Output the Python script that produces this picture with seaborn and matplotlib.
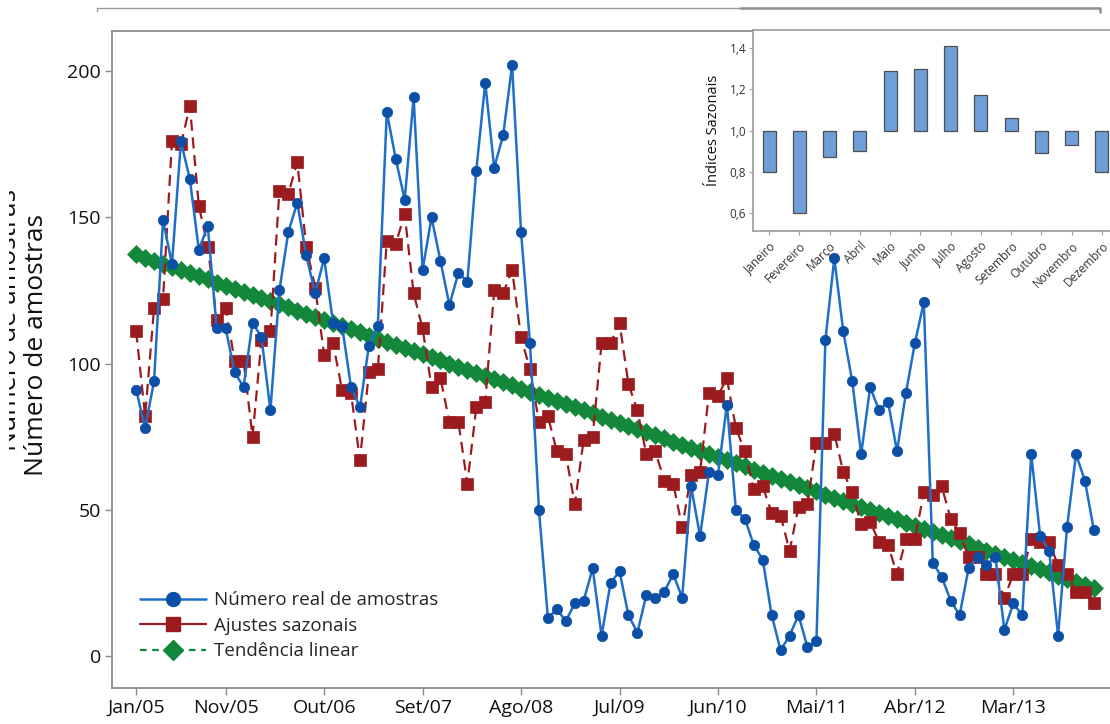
import numpy as np
import pandas as pd
import matplotlib
matplotlib.use("Agg")
import matplotlib.pyplot as plt
from matplotlib.lines import Line2D
from matplotlib.patches import Rectangle
import seaborn as sns

# Monthly sample counts, Jan/05 .. Dec/13
actual = [91, 78, 94, 149, 134, 176, 163, 139, 147, 112, 112, 97,
          92, 114, 109, 84, 125, 145, 155, 137, 124, 136, 114, 113,
          92, 85, 106, 113, 186, 170, 156, 191, 132, 150, 135, 120,
          131, 128, 166, 196, 167, 178, 202, 145, 107, 50, 13, 16,
          12, 18, 19, 30, 7, 25, 29, 14, 8, 21, 20, 22,
          28, 20, 58, 41, 63, 62, 86, 50, 47, 38, 33, 14,
          2, 7, 14, 3, 5, 108, 136, 111, 94, 69, 92, 84,
          87, 70, 90, 107, 121, 32, 27, 19, 14, 30, 34, 31,
          34, 9, 18, 14, 69, 41, 36, 7, 44, 69, 60, 43]

# Seasonally adjusted series
adjusted = [111, 82, 119, 122, 176, 175, 188, 154, 140, 115, 119, 101,
            101, 75, 108, 111, 159, 158, 169, 140, 126, 103, 107, 91,
            90, 67, 97, 98, 142, 141, 151, 124, 112, 92, 95, 80,
            80, 59, 85, 87, 125, 124, 132, 109, 98, 80, 82, 70,
            69, 52, 74, 75, 107, 107, 114, 93, 84, 69, 70, 60,
            59, 44, 62, 63, 90, 89, 95, 78, 70, 57, 58, 49,
            48, 36, 51, 52, 73, 73, 76, 63, 56, 45, 46, 39,
            38, 28, 40, 40, 56, 55, 58, 47, 42, 34, 34, 28,
            28, 20, 28, 28, 40, 39, 39, 31, 28, 22, 22, 18]

tick_months = [0, 10, 21, 32, 43, 54, 65, 76, 87, 98]
tick_labels = ["Jan/05", "Nov/05", "Out/06", "Set/07", "Ago/08",
               "Jul/09", "Jun/10", "Mai/11", "Abr/12", "Mar/13"]

month_names = ["Janeiro", "Fevereiro", "Março", "Abril", "Maio", "Junho",
               "Julho", "Agosto", "Setembro", "Outubro", "Novembro", "Dezembro"]
seasonal_index = [0.80, 0.60, 0.87, 0.90, 1.29, 1.30,
                  1.41, 1.17, 1.06, 0.89, 0.93, 0.80]

BLUE, BLUE_DARK = "#1f6fc8", "#0b4fa6"
RED = "#9c1b1f"
GREEN = "#14883a"
SPINE = "#8c8c8c"

sns.set_theme(style="ticks")
plt.rcParams["font.family"] = ["Open Sans", "DejaVu Sans"]

W, H = 1110, 724
fig = plt.figure(figsize=(W / 100, H / 100), dpi=100)


def box(x0, y0, x1, y1):
    return [x0 / W, 1 - y1 / H, (x1 - x0) / W, (y1 - y0) / H]


ax = fig.add_axes(box(112, 31, 1110, 688))

t = np.arange(len(actual))
df = pd.DataFrame({"t": t, "actual": actual, "adjusted": adjusted})
# least-squares linear trend of the monthly counts
slope, intercept = np.polyfit(df["t"], df["actual"], 1)
df["trend"] = intercept + slope * df["t"]

sns.lineplot(data=df, x="t", y="trend", ax=ax, color=GREEN, linestyle="--",
             linewidth=1.5, marker="D", markersize=9, markerfacecolor=GREEN,
             markeredgecolor=GREEN, markeredgewidth=0.5, zorder=2)
sns.lineplot(data=df, x="t", y="adjusted", ax=ax, color=RED,
             linestyle=(0, (5, 3)), linewidth=1.6, marker="s", markersize=8,
             markerfacecolor=RED, markeredgecolor=RED, markeredgewidth=0.5,
             zorder=3)
sns.lineplot(data=df, x="t", y="actual", ax=ax, color=BLUE, linewidth=1.8,
             marker="o", markersize=7.5, markerfacecolor=BLUE_DARK,
             markeredgecolor=BLUE_DARK, markeredgewidth=0.5, zorder=4)

ax.set_xlim(-2.7, 108.8)
ax.set_ylim(-10.9, 213.7)
ax.set_xticks(tick_months)
ax.set_xticklabels(tick_labels)
ax.set_yticks([0, 50, 100, 150, 200])
ax.set_xlabel("")
ax.set_ylabel("")
ax.tick_params(axis="both", direction="out", length=5, width=1.0,
               color=SPINE, labelsize=14, labelcolor="#111111", pad=3)
for name in ["left", "bottom", "top"]:
    ax.spines[name].set_visible(True)
    ax.spines[name].set_color(SPINE)
    ax.spines[name].set_linewidth(1.3)
ax.spines["right"].set_visible(False)

handles = [
    Line2D([], [], color=BLUE, lw=1.8, marker="o", markersize=10,
           markerfacecolor=BLUE_DARK, markeredgecolor=BLUE_DARK),
    Line2D([], [], color=RED, lw=1.6, marker="s", markersize=10,
           markerfacecolor=RED, markeredgecolor=RED),
    Line2D([], [], color=GREEN, lw=1.6, linestyle=(0, (3, 2.5)), marker="D",
           markersize=10, markerfacecolor=GREEN, markeredgecolor=GREEN),
]
ax.legend(handles, ["Número real de amostras", "Ajustes sazonais",
                    "Tendência linear"],
          loc="lower left", bbox_to_anchor=(0.028, 0.042), frameon=False,
          fontsize=13.5, handlelength=3.5, handletextpad=0.45,
          labelspacing=0.4, borderpad=0, borderaxespad=0)

# y-axis title, with a shifted duplicate partly hidden at the left edge
fig.text(10 / W, 1 - 320 / H, "Número de amostras", rotation=90,
         ha="center", va="center", fontsize=19, color="#111111")
fig.add_artist(Rectangle((0, 0), 9 / W, 1, transform=fig.transFigure,
                         facecolor="white", edgecolor="none", zorder=5))
fig.text(37 / W, 1 - 345 / H, "Número de amostras", rotation=90,
         ha="center", va="center", fontsize=19, color="#111111", zorder=6)

# bracket line across the top
fig.add_artist(Line2D([97 / W, 97 / W, 740 / W], [1 - 11 / H, 1 - 8 / H, 1 - 8 / H],
                      transform=fig.transFigure, color="#9a9a9a", lw=1.0))
fig.add_artist(Line2D([740 / W, 1100 / W, 1100 / W], [1 - 8 / H, 1 - 8 / H, 1 - 12 / H],
                      transform=fig.transFigure, color="#8f8f8f", lw=1.8))

# inset: seasonal indices
ins = fig.add_axes(box(753, 30, 1118, 231))
ins.set_facecolor("white")
pos = np.arange(len(month_names))
heights = np.array(seasonal_index) - 1.0
ins.bar(pos, heights, bottom=1.0, width=0.43, color="#6f9fd8",
        edgecolor="#4f4f4f", linewidth=0.9, zorder=3)
ins.set_xlim(-0.53, 11.53)
ins.set_ylim(0.513, 1.487)
ins.set_yticks([0.6, 0.8, 1.0, 1.2, 1.4])
ins.set_yticklabels(["0,6", "0,8", "1,0", "1,2", "1,4"])
ins.set_xticks(pos)
ins.set_xticklabels(month_names, rotation=45, ha="right",
                    rotation_mode="anchor")
ins.tick_params(axis="both", direction="out", length=3, width=0.8,
                color="#a0a0a0", labelsize=8.5, labelcolor="#333333", pad=2)
ins.tick_params(axis="x", labelsize=8.5, pad=3)
ins.set_ylabel("Índices Sazonais", fontsize=10.5, color="#111111", labelpad=6)
for name in ["left", "bottom", "top"]:
    ins.spines[name].set_visible(True)
    ins.spines[name].set_color("#a0a0a0")
    ins.spines[name].set_linewidth(1.3)
ins.spines["right"].set_visible(False)

fig.savefig("out.png", dpi=100, facecolor="white")
